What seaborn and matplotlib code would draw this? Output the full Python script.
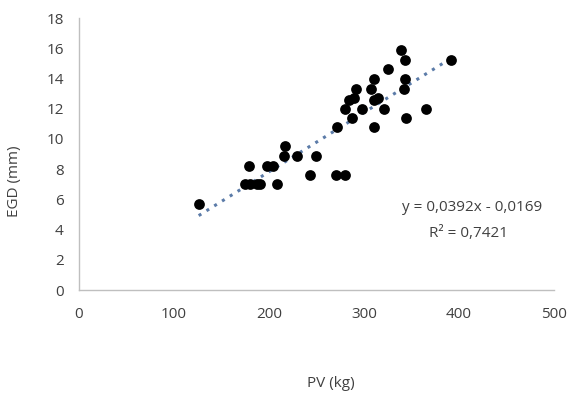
import matplotlib
matplotlib.use("Agg")
import matplotlib.pyplot as plt
import seaborn as sns
import pandas as pd

# data
pv = [126, 175, 180, 178.5, 187.5, 190.5, 197.5, 204.5, 208, 216, 217, 229,
      243, 249, 271, 280, 272, 280, 284.5, 289.5, 287.5, 291.5, 298, 307,
      310, 314.5, 310.5, 311, 321, 325, 338.5, 343.5, 343.5, 342, 344, 365, 392]
egd = [5.7, 7.0, 7.0, 8.2, 7.0, 7.0, 8.2, 8.2, 7.0, 8.9, 9.5, 8.9,
       7.6, 8.9, 7.6, 7.6, 10.8, 12.0, 12.6, 12.7, 11.4, 13.3, 12.0, 13.3,
       12.6, 12.7, 13.95, 10.8, 12.0, 14.6, 15.85, 15.2, 13.95, 13.3, 11.4, 12.0, 15.25]
slope = 0.0392
intercept = -0.0169
eq_text = "y = 0,0392x - 0,0169"
r2_text = "R² = 0,7421"
x_ticks = [0, 100, 200, 300, 400, 500]
y_ticks = [0, 2, 4, 6, 8, 10, 12, 14, 16, 18]

sns.set_style("white")
plt.rcParams['font.family'] = ['Open Sans', 'DejaVu Sans']

df = pd.DataFrame({"PV": pv, "EGD": egd})
xmin, xmax = min(pv), max(pv)
trend = pd.DataFrame({"PV": [xmin, xmax],
                      "EGD": [slope * xmin + intercept, slope * xmax + intercept]})

fig = plt.figure(figsize=(5.8, 3.98), dpi=100)
ax = fig.add_axes([79 / 580, 1 - 290 / 398, 475 / 580, 272 / 398])

sns.lineplot(data=trend, x="PV", y="EGD", ax=ax, color="#5B7BA8",
             linestyle=(0, (1, 2)), linewidth=2.2, zorder=1)
sns.scatterplot(data=df, x="PV", y="EGD", ax=ax, color="black", s=60,
                edgecolor="black", linewidth=0, zorder=2)

ax.set_xlim(0, 500)
ax.set_ylim(0, 18)
ax.set_xticks(x_ticks)
ax.set_yticks(y_ticks)
ax.tick_params(axis="both", length=0, labelsize=11, colors="#404040")
ax.tick_params(axis="x", pad=12)
ax.tick_params(axis="y", pad=11)
for s in ["top", "right"]:
    ax.spines[s].set_visible(False)
for s in ["left", "bottom"]:
    ax.spines[s].set_color("#BFBFBF")
    ax.spines[s].set_linewidth(1)

ax.set_xlabel("PV (kg)", fontsize=11, color="#404040")
ax.set_ylabel("EGD (mm)", fontsize=11, color="#404040")
ax.xaxis.set_label_coords(0.53, -0.315)
ax.yaxis.set_label_coords(-0.12, 0.40)

ax.text(414, 5.43, eq_text, ha="center", va="center", fontsize=11, color="#404040")
ax.text(410, 3.77, r2_text, ha="center", va="center", fontsize=11, color="#404040")

fig.savefig("out.png", dpi=100)
